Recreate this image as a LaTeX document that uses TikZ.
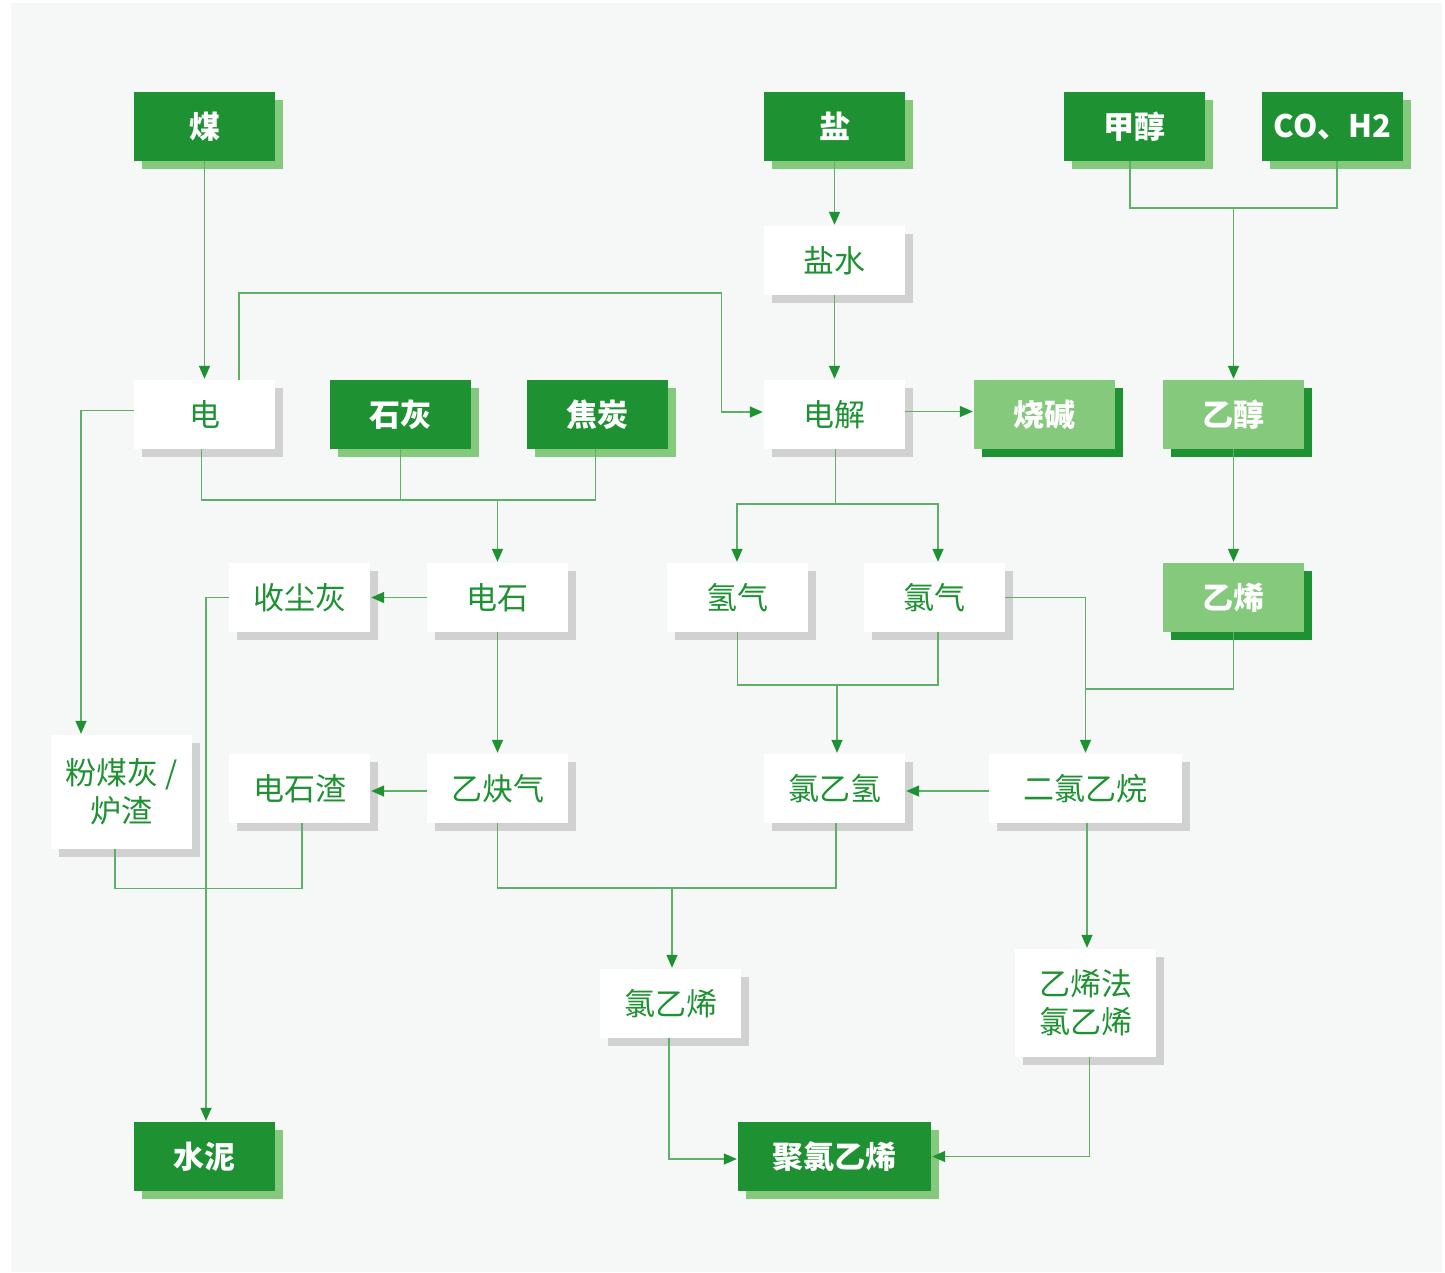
\documentclass[tikz,border=0pt]{standalone}
\usepackage{fontspec}
\setmainfont{Noto Sans CJK SC}
\usetikzlibrary{arrows.meta,shadows,calc}
\definecolor{dg}{RGB}{30,146,50}
\definecolor{lg}{RGB}{133,201,125}
\definecolor{sg}{RGB}{208,209,208}
\definecolor{bgc}{RGB}{246,248,247}
\definecolor{ln}{RGB}{95,175,105}
\begin{document}
\begin{tikzpicture}[x=1pt,y=-1pt,
  box/.style={minimum width=141pt, minimum height=69pt, inner sep=0pt, align=center},
  regfont/.style={font=\fontsize{31}{38}\selectfont},
  boldfont/.style={font=\fontsize{31}{38}\selectfont\bfseries},
  darkbox/.style={box, boldfont, fill=dg, text=white, general shadow={fill=lg, shadow xshift=8pt, shadow yshift=-8pt}},
  lightbox/.style={box, boldfont, fill=lg, text=white, general shadow={fill=dg, shadow xshift=8pt, shadow yshift=-8pt}},
  whitebox/.style={box, regfont, fill=white, text=dg, general shadow={fill=sg, shadow xshift=8pt, shadow yshift=-8pt}},
  conn/.style={draw=ln, line width=1.4pt},
  arr/.style={conn, -{Triangle[length=13pt,width=11pt,color=dg]}, shorten >=1pt}
]
\fill[white] (0,0) rectangle (1445,1272);
\fill[bgc] (11,3) rectangle (1442,1272);
\useasboundingbox (0,0) rectangle (1445,1272);

% row 1
\node[darkbox] (coal) at (204.5,126.5) {煤};
\node[darkbox] (salt) at (834.5,126.5) {盐};
\node[darkbox] (meth) at (1134.5,126.5) {甲醇};
\node[darkbox] (co) at (1332.5,126.5) {CO、H2};
% row 2
\node[whitebox] (brine) at (834.5,260.5) {盐水};
% row 3
\node[whitebox] (elec) at (204.5,414.5) {电};
\node[darkbox] (lime) at (400.5,414.5) {石灰};
\node[darkbox] (coke) at (597.5,414.5) {焦炭};
\node[whitebox] (electro) at (834.5,414.5) {电解};
\node[lightbox] (soda) at (1044.5,414.5) {烧碱};
\node[lightbox] (ethanol) at (1233.5,414.5) {乙醇};
% row 4
\node[whitebox] (dust) at (299.5,597.5) {收尘灰};
\node[whitebox] (carbide) at (497.5,597.5) {电石};
\node[whitebox] (h2) at (737.5,597.5) {氢气};
\node[whitebox] (cl2) at (934.5,597.5) {氯气};
\node[lightbox] (ethylene) at (1233.5,597.5) {乙烯};
% row 5
\node[whitebox, minimum height=114pt] (ash) at (121.5,792) {粉煤灰 /\\炉渣};
\node[whitebox] (slag) at (299.5,788.5) {电石渣};
\node[whitebox] (acet) at (497.5,788.5) {乙炔气};
\node[whitebox] (hcl) at (834.5,788.5) {氯乙氢};
\node[whitebox, minimum width=193pt] (edc) at (1085.5,788.5) {二氯乙烷};
% row 6
\node[whitebox] (vcm) at (670.5,1003.5) {氯乙烯};
\node[whitebox, minimum height=108pt] (evcm) at (1085.5,1003) {乙烯法\\氯乙烯};
% row 7
\node[darkbox] (cement) at (204.5,1156.5) {水泥};
\node[darkbox, minimum width=193pt] (pvc) at (834.5,1156.5) {聚氯乙烯};

% junctions
\coordinate (j1) at (497.5,500);
\coordinate (s1) at (737,504);
\coordinate (j3) at (837,685);
\coordinate (j4) at (1233.5,208);
\coordinate (j5) at (672,888);
\coordinate (j6) at (1085.5,689);
\coordinate (j7) at (302,888.5);
\coordinate (t1) at (721.5,293);

% connectors
\draw[arr] (coal) -- (elec);
\draw[arr] (salt) -- (brine);
\draw[arr] (brine) -- (electro);
\draw[arr] ([xshift=34.5pt]elec.north) |- (t1) |- ([yshift=2.5pt]electro.west);
\draw[arr] ([yshift=3pt]electro.east) -- ([yshift=3pt]soda.west);
\draw[arr] ([yshift=4pt]elec.west) -| ([xshift=-40.5pt]ash.north);

\draw[conn] ([xshift=-3pt]elec.south) |- (j1);
\draw[conn] (lime.south) |- (j1);
\draw[conn] ([xshift=-2pt]coke.south) |- (j1);
\draw[arr] (j1) -- (carbide.north);

\draw[arr] (carbide) -- (dust);
\draw[arr] (dust.west) -| ([xshift=1.5pt]cement.north);
\draw[arr] (carbide) -- (acet);
\draw[arr] ([yshift=-2.5pt]acet.west) -- ([yshift=-2.5pt]slag.east);
\draw[conn] ([xshift=-6.5pt]ash.south) |- (j7) -- ([xshift=2.5pt]slag.south);

\draw[arr] ([xshift=1pt]electro.south) |- (s1) -- (s1 |- h2.north);
\draw[arr] (s1) -| ([xshift=3.5pt]cl2.north);
\draw[conn] (h2.south) |- (j3);
\draw[conn] ([xshift=3.5pt]cl2.south) |- (j3);
\draw[arr] (j3) -- (j3 |- hcl.north);

\draw[arr] (cl2.east) -| (edc.north);
\draw[conn] (ethylene.south) |- (j6);

\draw[conn] ([xshift=-4.5pt]meth.south) |- (j4);
\draw[conn] ([xshift=4.5pt]co.south) |- (j4);
\draw[arr] (j4) -- (ethanol.north);
\draw[arr] (ethanol) -- (ethylene);

\draw[arr] ([yshift=-2.5pt]edc.west) -- ([yshift=-2.5pt]hcl.east);
\draw[conn] (acet.south) |- (j5);
\draw[conn] ([xshift=1.5pt]hcl.south) |- (j5);
\draw[arr] (j5) -- (j5 |- vcm.north);
\draw[arr] ([xshift=1.5pt]edc.south) -- ([xshift=1.5pt]evcm.north);

\draw[arr] ([xshift=-1.5pt]vcm.south) |- ([yshift=-2.5pt]pvc.west);
\draw[arr] ([xshift=4pt]evcm.south) |- (pvc.east);
\end{tikzpicture}
\end{document}
